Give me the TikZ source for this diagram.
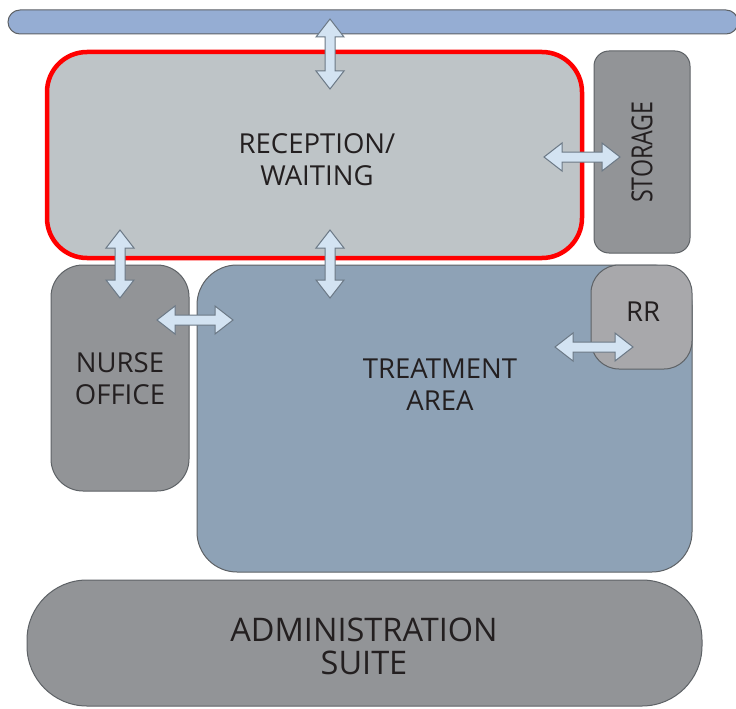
\documentclass[tikz,border=0pt]{standalone}
\usepackage{fontspec}
\setmainfont{Open Sans}
\definecolor{barblue}{HTML}{95ADD3}
\definecolor{recgray}{HTML}{BEC4C7}
\definecolor{darkroom}{HTML}{929497}
\definecolor{treatblue}{HTML}{8EA2B6}
\definecolor{rrgray}{HTML}{A8A8AB}
\definecolor{edgegray}{HTML}{5E6266}
\definecolor{arrfill}{HTML}{D3E3F2}
\definecolor{arredge}{HTML}{6B7885}
\definecolor{txt}{HTML}{231F20}
\definecolor{hlred}{HTML}{FF0000}
\newcommand{\dblarr}[4]{% center x, center y, length, angle
  \begin{scope}[shift={(#1,#2)},rotate=#4]
    \pgfmathsetmacro{\hh}{#3/2}
    \draw[arrow] (-\hh,0) -- (-\hh+18,14) -- (-\hh+18,5) -- (\hh-18,5) -- (\hh-18,14) -- (\hh,0)
      -- (\hh-18,-14) -- (\hh-18,-5) -- (-\hh+18,-5) -- (-\hh+18,-14) -- cycle;
  \end{scope}}
\tikzset{
  room/.style={draw=edgegray, line width=1pt},
  arrow/.style={draw=arredge, fill=arrfill, line width=1pt, line join=miter},
  lbl/.style={text=txt, align=center, inner sep=0pt, font=\fontsize{27.5}{32}\selectfont},
}
\begin{document}
\begin{tikzpicture}[x=1pt,y=-1pt]
\useasboundingbox[fill=white] (0,0) rectangle (736,709);
% top corridor
\draw[room, fill=barblue, rounded corners=12] (8,10) rectangle (738,34);
% reception
\draw[room, fill=recgray, rounded corners=40] (47,52) rectangle (582,258);
\node[lbl] (rec) at (317,160) {RECEPTION/\\WAITING};
% storage
\draw[room, fill=darkroom, rounded corners=15] (594,51) rectangle (690,253);
\node[lbl, rotate=90, font=\fontsize{29}{32}\selectfont\addfontfeature{FakeStretch=0.8}] (sto) at (642,152) {STORAGE};
% nurse office
\draw[room, fill=darkroom, rounded corners=32] (51,265) rectangle (189,491);
\node[lbl] (nur) at (120,379) {NURSE\\OFFICE};
% treatment area
\draw[room, fill=treatblue, rounded corners=40] (197,265) rectangle (692,572);
\node[lbl] (tre) at (440,385) {TREATMENT\\AREA};
% RR
\draw[room, fill=rrgray, rounded corners=28] (591,265) rectangle (692,369);
\node[lbl] (rr) at (643,312) {RR};
% administration
\draw[room, fill=darkroom, rounded corners=60] (27,580) rectangle (702,706);
\node[lbl, font=\fontsize{32.5}{33}\selectfont] (adm) at (364,646) {ADMINISTRATION\\SUITE};
% red highlight
\draw[hlred, line width=4.5pt, rounded corners=40] (47,52) rectangle (582,258);
% arrows
\dblarr{330}{54}{70}{90}
\dblarr{582}{157}{76}{0}
\dblarr{120}{264}{68}{90}
\dblarr{330}{264}{68}{90}
\dblarr{195}{320}{76}{0}
\dblarr{594}{347}{78}{0}
\end{tikzpicture}
\end{document}
